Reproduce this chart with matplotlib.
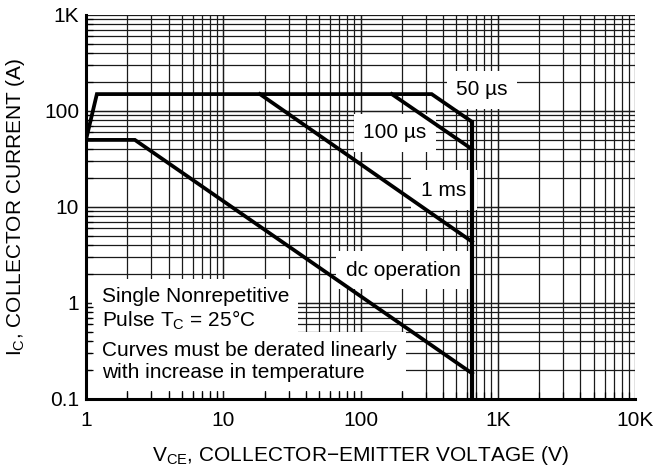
import numpy as np
import matplotlib
matplotlib.use("Agg")
import matplotlib.pyplot as plt

plt.rcParams['font.family'] = ['Liberation Sans', 'DejaVu Sans']
plt.rcParams['mathtext.fontset'] = 'custom'
plt.rcParams['mathtext.rm'] = 'Liberation Sans'
plt.rcParams['mathtext.it'] = 'Liberation Sans'

# Data (V_CE in volts, I_C in amps)
v_50us = [1, 1.2, 330, 650, 650]
i_50us = [50, 150, 150, 77, 0.1]
v_100us = [169, 650]
i_100us = [150, 40]
v_1ms = [18.5, 650]
i_1ms = [150, 4.35]
v_dc = [1, 2.27, 650]
i_dc = [50, 50, 0.185]

x_ticks = [1, 10, 100, 1000, 10000]
x_ticklabels = ['1', '10', '100', '1K', '10K']
y_ticks = [0.1, 1, 10, 100, 1000]
y_ticklabels = ['0.1', '1', '10', '100', '1K']

fig = plt.figure(figsize=(6.59, 4.71), dpi=100)
ax = fig.add_axes([86/659, 1-399/471, (635-86)/659, (399-15)/471])
ax.set_xscale('log')
ax.set_yscale('log')
ax.set_xlim(1, 10000)
ax.set_ylim(0.1, 1000)

# manual grid (below text boxes)
for d in range(0, 4):
    for m in range(1, 11):
        ax.axvline(m * 10**d, color='#1a1a1a', lw=0.9, zorder=1)
for d in range(-1, 3):
    for m in range(1, 11):
        ax.axhline(m * 10.0**d, color='#1a1a1a', lw=0.9, zorder=1)

lw = 2.7
ax.plot(v_50us, i_50us, color='black', lw=lw, zorder=3, solid_joinstyle='miter')
ax.plot(v_100us, i_100us, color='black', lw=lw, zorder=3)
ax.plot(v_1ms, i_1ms, color='black', lw=lw, zorder=3)
ax.plot(v_dc, i_dc, color='black', lw=lw, zorder=3, solid_joinstyle='miter')
ax.plot([650, 650], [0.1, 77], color='black', lw=3.0, zorder=3)

fs = 15
box = dict(boxstyle='square,pad=0.45', fc='white', ec='none')
ax.text(764, 166, '50 µs', fontsize=fs, ha='center', va='center', bbox=box, zorder=2)
ax.text(178, 59, '100 µs', fontsize=fs, ha='center', va='center', bbox=box, zorder=2)
ax.text(405, 15, '1 ms', fontsize=fs, ha='center', va='center',
        bbox=dict(boxstyle='square,pad=0.5', fc='white', ec='none'), zorder=2)
ax.text(204, 2.2, 'dc operation', fontsize=fs, ha='center', va='center', bbox=box, zorder=2)

nbox = dict(boxstyle='square,pad=0.45', fc='white', ec='none')
ax.text(0.0286, 0.233, 'Single Nonrepetitive\nPulse T$_\\mathrm{C}$ = 25°C', transform=ax.transAxes,
        fontsize=fs, ha='left', va='center', linespacing=1.15, bbox=nbox, zorder=2)
ax.text(0.0286, 0.0975, 'Curves must be derated linearly\nwith increase in temperature', transform=ax.transAxes,
        fontsize=fs, ha='left', va='center', linespacing=1.15, bbox=nbox, zorder=2)

ax.set_axisbelow(False)
ax.spines['top'].set_visible(False)
ax.spines['right'].set_visible(False)
ax.spines['left'].set_linewidth(2.2)
ax.spines['bottom'].set_linewidth(2.2)
for s in ax.spines.values():
    s.set_zorder(4)

ax.set_xticks(x_ticks)
ax.set_xticklabels(x_ticklabels)
ax.set_yticks(y_ticks)
ax.set_yticklabels(y_ticklabels)
ax.tick_params(axis='both', which='major', length=0, labelsize=fs, pad=9)
ax.tick_params(axis='y', which='major', pad=5)
ax.tick_params(axis='both', which='minor', direction='in', length=5, width=0.9, labelleft=False, labelbottom=False)

ax.set_xlabel('V$_\\mathrm{CE}$, COLLECTOR−EMITTER VOLTAGE (V)', fontsize=fs, labelpad=10)
ax.set_ylabel('I$_\\mathrm{C}$, COLLECTOR CURRENT (A)', fontsize=fs, labelpad=12)

fig.savefig('out.png', dpi=100)
